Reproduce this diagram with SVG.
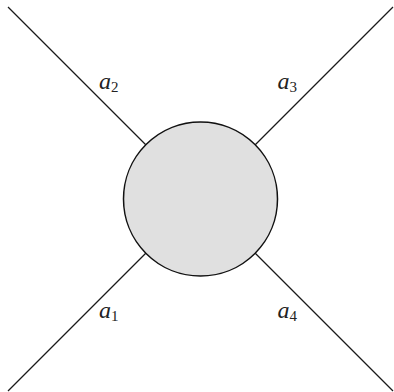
<svg xmlns="http://www.w3.org/2000/svg" width="394" height="392" viewBox="0 0 394 392">
<style>
.leg{stroke:#1a1a1a;stroke-width:1.3;fill:none}
.lbl{font-family:"Liberation Serif","DejaVu Serif",serif;font-style:italic;font-size:24px;fill:#222}
.sub{font-style:normal;font-size:15px}
</style>
<rect width="394" height="392" fill="#fff"/>
<g id="connectors">
<line class="leg" x1="8" y1="7" x2="146" y2="145"/>
<line class="leg" x1="393" y1="7" x2="255" y2="145"/>
<line class="leg" x1="8" y1="391" x2="146" y2="253"/>
<line class="leg" x1="393" y1="391" x2="255" y2="253"/>
</g>
<g id="blob">
<circle cx="200.5" cy="199" r="77" fill="#e0e0e0" stroke="#111" stroke-width="1.5"/>
</g>
<g id="label-a2"><text class="lbl" x="99" y="89">a<tspan class="sub" dy="3">2</tspan></text></g>
<g id="label-a3"><text class="lbl" x="277.5" y="89">a<tspan class="sub" dy="3">3</tspan></text></g>
<g id="label-a1"><text class="lbl" x="99" y="317.5">a<tspan class="sub" dy="3">1</tspan></text></g>
<g id="label-a4"><text class="lbl" x="277.5" y="317.5">a<tspan class="sub" dy="3">4</tspan></text></g>
</svg>
